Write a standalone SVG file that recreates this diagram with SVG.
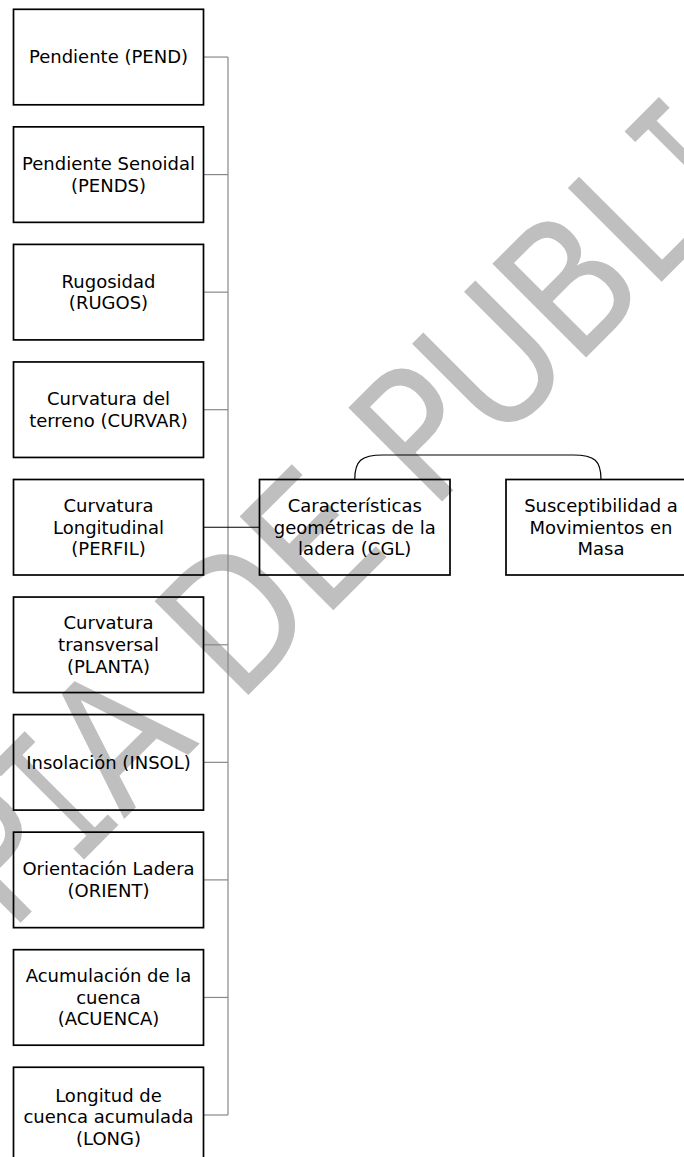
<svg xmlns="http://www.w3.org/2000/svg" width="684" height="1157" viewBox="0 0 684 1157">
  <style>
    .box { fill: none; stroke: #000; stroke-width: 1.7; }
    .lbl { font-family: "DejaVu Sans", Verdana, sans-serif; font-size: 18px; fill: #000; text-anchor: middle; }
    .link { fill: none; stroke: #888; stroke-width: 1.2; }
    .main { fill: none; stroke: #000; stroke-width: 1.2; }
    .wm { fill: #bfbfbf; }
  </style>
  <rect width="684" height="1157" fill="#fff"/>

  <!-- background stamp, drawn first so everything sits on top of it -->
  <g id="watermark" class="wm" transform="translate(471.7 471.7) rotate(-45)">
    <text font-family="DejaVu Sans, sans-serif" font-size="160" transform="scale(1 1.136)"><tspan x="-653.5" y="0">P</tspan><tspan x="-492.7" y="0">A</tspan><tspan x="-331.5" y="0">D</tspan><tspan x="-211.5" y="0">E</tspan><tspan x="-57.7" y="0">P</tspan><tspan x="34.5" y="0">U</tspan><tspan x="146" y="0">B</tspan><tspan x="253" y="0">L</tspan></text>
    <text font-family="DejaVu Sans Mono, monospace" font-size="120" transform="scale(1 1.515)"><tspan x="-560" y="0">I</tspan><tspan x="337" y="0">I</tspan></text>
  </g>

  <!-- connectors -->
  <g id="connectors">
    <line class="link" x1="228" y1="57.05" x2="228" y2="1115"/>
    <line class="link" x1="203.5" y1="57.05" x2="228" y2="57.05"/>
    <line class="link" x1="203.5" y1="174.6" x2="228" y2="174.6"/>
    <line class="link" x1="203.5" y1="292.15" x2="228" y2="292.15"/>
    <line class="link" x1="203.5" y1="409.7" x2="228" y2="409.7"/>
    <line class="link" x1="203.5" y1="644.8" x2="228" y2="644.8"/>
    <line class="link" x1="203.5" y1="762.35" x2="228" y2="762.35"/>
    <line class="link" x1="203.5" y1="879.9" x2="228" y2="879.9"/>
    <line class="link" x1="203.5" y1="997.45" x2="228" y2="997.45"/>
    <line class="link" x1="203.5" y1="1115" x2="228" y2="1115"/>
    <line class="main" x1="203.5" y1="527.25" x2="259.5" y2="527.25"/>
    <path class="main" d="M354.75,479.5 C354.75,461 361,455 383,455 L573,455 C595,455 601,461 601,479.5"/>
  </g>

  <!-- factor nodes -->
  <g id="pend">
    <rect class="box" x="13.5" y="9.3" width="190" height="95.5"/>
    <text class="lbl" x="108.5" y="63.35">Pendiente (PEND)</text>
  </g>
  <g id="pends">
    <rect class="box" x="13.5" y="126.85" width="190" height="95.5"/>
    <text class="lbl" x="108.5" y="170.05">Pendiente Senoidal</text>
    <text class="lbl" x="108.5" y="191.75">(PENDS)</text>
  </g>
  <g id="rugos">
    <rect class="box" x="13.5" y="244.4" width="190" height="95.5"/>
    <text class="lbl" x="108.5" y="287.6">Rugosidad</text>
    <text class="lbl" x="108.5" y="309.3">(RUGOS)</text>
  </g>
  <g id="curvar">
    <rect class="box" x="13.5" y="361.95" width="190" height="95.5"/>
    <text class="lbl" x="108.5" y="405.15">Curvatura del</text>
    <text class="lbl" x="108.5" y="426.85">terreno (CURVAR)</text>
  </g>
  <g id="perfil">
    <rect class="box" x="13.5" y="479.5" width="190" height="95.5"/>
    <text class="lbl" x="108.5" y="511.85">Curvatura</text>
    <text class="lbl" x="108.5" y="533.55">Longitudinal</text>
    <text class="lbl" x="108.5" y="555.25">(PERFIL)</text>
  </g>
  <g id="planta">
    <rect class="box" x="13.5" y="597.05" width="190" height="95.5"/>
    <text class="lbl" x="108.5" y="629.4">Curvatura</text>
    <text class="lbl" x="108.5" y="651.1">transversal</text>
    <text class="lbl" x="108.5" y="672.8">(PLANTA)</text>
  </g>
  <g id="insol">
    <rect class="box" x="13.5" y="714.6" width="190" height="95.5"/>
    <text class="lbl" x="108.5" y="768.65">Insolación (INSOL)</text>
  </g>
  <g id="orient">
    <rect class="box" x="13.5" y="832.15" width="190" height="95.5"/>
    <text class="lbl" x="108.5" y="875.35">Orientación Ladera</text>
    <text class="lbl" x="108.5" y="897.05">(ORIENT)</text>
  </g>
  <g id="acuenca">
    <rect class="box" x="13.5" y="949.7" width="190" height="95.5"/>
    <text class="lbl" x="108.5" y="982.05">Acumulación de la</text>
    <text class="lbl" x="108.5" y="1003.75">cuenca</text>
    <text class="lbl" x="108.5" y="1025.45">(ACUENCA)</text>
  </g>
  <g id="long">
    <rect class="box" x="13.5" y="1067.25" width="190" height="95.5"/>
    <text class="lbl" x="108.5" y="1101.6">Longitud de</text>
    <text class="lbl" x="108.5" y="1123.3">cuenca acumulada</text>
    <text class="lbl" x="108.5" y="1145">(LONG)</text>
  </g>

  <!-- aggregate and outcome nodes -->
  <g id="cgl">
    <rect class="box" x="259.5" y="479.5" width="190.5" height="95.5"/>
    <text class="lbl" x="354.75" y="511.85">Características</text>
    <text class="lbl" x="354.75" y="533.55">geométricas de la</text>
    <text class="lbl" x="354.75" y="555.25">ladera (CGL)</text>
  </g>
  <g id="susceptibilidad">
    <rect class="box" x="506" y="479.5" width="190.5" height="95.5"/>
    <text class="lbl" x="601" y="511.85">Susceptibilidad a</text>
    <text class="lbl" x="601" y="533.55">Movimientos en</text>
    <text class="lbl" x="601" y="555.25">Masa</text>
  </g>
</svg>
